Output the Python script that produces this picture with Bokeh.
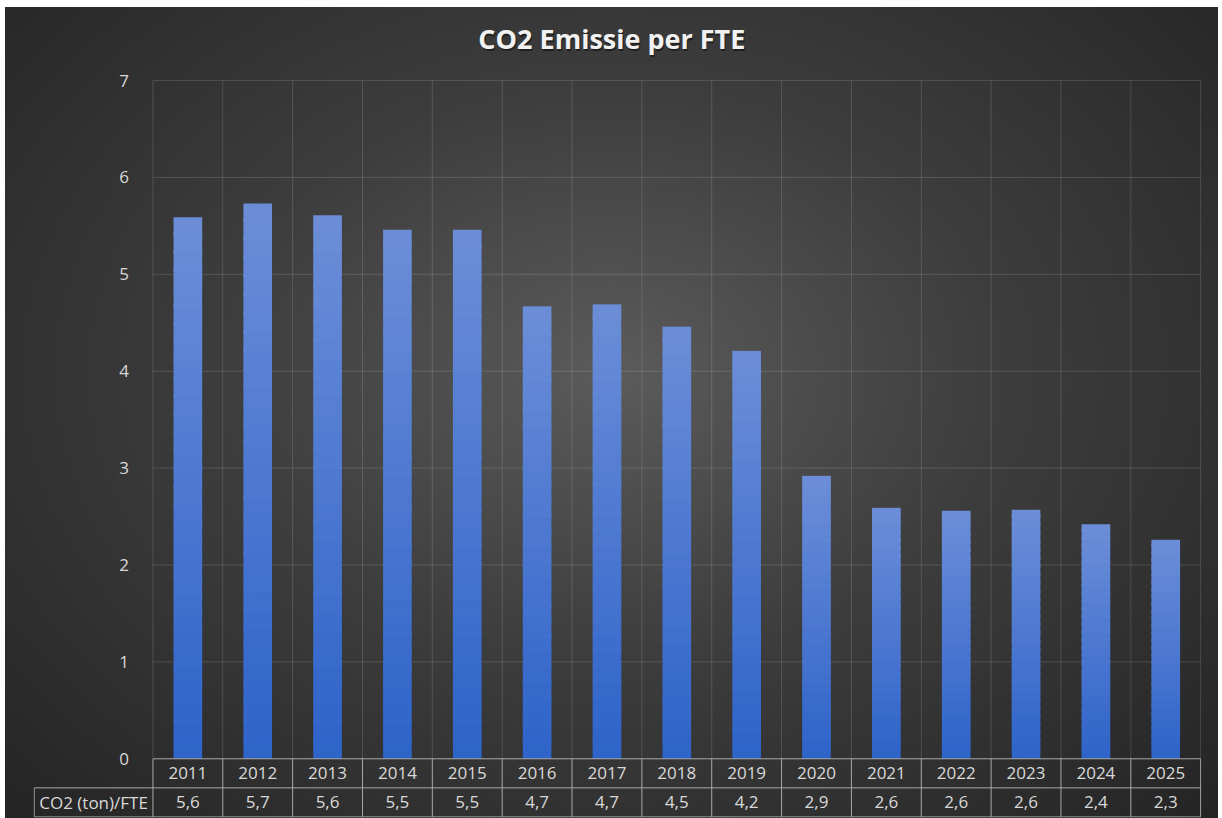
import numpy as np
from bokeh.plotting import figure
from bokeh.models import Range1d, LinearAxis, FixedTicker, Label
from bokeh.core.properties import value
from bokeh.embed import file_html
from bokeh.resources import INLINE

# ---- data ----
years = ["2011", "2012", "2013", "2014", "2015", "2016", "2017", "2018",
         "2019", "2020", "2021", "2022", "2023", "2024", "2025"]
co2_per_fte = [5.59, 5.73, 5.61, 5.46, 5.46, 4.67, 4.69, 4.46,
               4.21, 2.92, 2.59, 2.56, 2.57, 2.42, 2.26]
y_ticks = [0, 1, 2, 3, 4, 5, 6, 7]
row_label = "CO2 (ton)/FTE"
chart_title = "CO2 Emissie per FTE"

# ---- layout constants ----
n = len(years)
ROW = 0.30            # table row height in data units
LABEL_LEFT = -1.70    # left edge of the row-label cell
BAR_W = 0.41
FONT = "Open Sans"
TXT = "#d9d9d9"
TABLE_LINE = "#a9a9a9"
Y_MAX = y_ticks[-1]

p = figure(width=1218, height=818,
           x_range=Range1d(LABEL_LEFT - 0.01, n + 0.012),
           y_range=Range1d(-2 * ROW - 0.006, Y_MAX + 0.826),
           output_backend="svg", toolbar_location=None,
           x_axis_location=None, y_axis_location=None,
           min_border_left=33, min_border_right=17,
           min_border_top=0, min_border_bottom=1)

p.border_fill_color = None
p.background_fill_color = None
p.outline_line_color = None
p.styles = {"background": "radial-gradient(ellipse farthest-corner at 50% 45%, #5b5b5b 0%, "
                          "#3d3d3d 45%, #242424 100%) 5px 7px / 1213px 811px no-repeat, #ffffff"}
p.grid.visible = False

# ---- title (with a soft dark shadow) ----
TITLE_X = 6.57
TITLE_Y = Y_MAX + 0.43
p.add_layout(Label(x=TITLE_X, y=TITLE_Y, x_offset=1, y_offset=-2, text=chart_title,
                   text_font=FONT, text_font_style="bold", text_font_size="27px",
                   text_color="black", text_alpha=0.45, text_align="center",
                   text_baseline="alphabetic"))
p.add_layout(Label(x=TITLE_X, y=TITLE_Y, text=chart_title,
                   text_font=FONT, text_font_style="bold", text_font_size="27px",
                   text_color="#f2f2f2", text_align="center", text_baseline="alphabetic"))

# ---- gridlines (faint) ----
p.segment(x0=list(range(n + 1)), x1=list(range(n + 1)),
          y0=[0] * (n + 1), y1=[Y_MAX] * (n + 1),
          line_color="white", line_alpha=0.14, line_width=1)
p.segment(x0=[0] * (len(y_ticks) - 1), x1=[n] * (len(y_ticks) - 1),
          y0=y_ticks[1:], y1=y_ticks[1:], line_color="white", line_alpha=0.14, line_width=1)

# ---- bars with vertical gradient ----
N = 30
top_col = np.array([108, 142, 216])
bot_col = np.array([46, 99, 201])
L, R, B, T, C = [], [], [], [], []
for i, v in enumerate(co2_per_fte):
    for k in range(N):
        f = (k + 0.5) / N
        c = bot_col + (top_col - bot_col) * f
        L.append(i + 0.5 - BAR_W / 2)
        R.append(i + 0.5 + BAR_W / 2)
        B.append(v * k / N)
        T.append(min(v * (k + 1) / N + 0.03, v))
        C.append("#%02x%02x%02x" % tuple(int(round(x)) for x in c))
p.quad(left=L, right=R, bottom=B, top=T, fill_color=C, line_color=None)

# ---- y axis ----
yaxis = LinearAxis(fixed_location=0, ticker=FixedTicker(ticks=y_ticks),
                   axis_line_color=None, major_tick_line_color=None,
                   minor_tick_line_color=None, major_label_standoff=18,
                   major_label_text_font=FONT, major_label_text_font_size="17px",
                   major_label_text_color=TXT)
p.add_layout(yaxis, "left")

# ---- data table ----
xc = [i + 0.5 for i in range(n)]
p.segment(x0=[0, LABEL_LEFT, LABEL_LEFT], x1=[n, n, n],
          y0=[0, -ROW, -2 * ROW], y1=[0, -ROW, -2 * ROW],
          line_color=TABLE_LINE, line_width=1)
p.segment(x0=list(range(n + 1)) + [LABEL_LEFT], x1=list(range(n + 1)) + [LABEL_LEFT],
          y0=[-2 * ROW] * (n + 2), y1=[0] * (n + 1) + [-ROW],
          line_color=TABLE_LINE, line_width=1)

value_labels = [f"{v:.1f}".replace(".", ",") for v in co2_per_fte]
p.text(x=xc, y=[-ROW / 2] * n, text=years, text_align="center", text_baseline="middle",
       text_font=value(FONT), text_font_size="17px", text_color=TXT)
p.text(x=xc, y=[-1.5 * ROW] * n, text=value_labels, text_align="center", text_baseline="middle",
       text_font=value(FONT), text_font_size="17px", text_color=TXT)
p.text(x=[LABEL_LEFT / 2], y=[-1.5 * ROW], text=[row_label], text_align="center",
       text_baseline="middle", text_font=value(FONT), text_font_size="17px", text_color=TXT)

open("out.html", "w").write(file_html(p, INLINE))
